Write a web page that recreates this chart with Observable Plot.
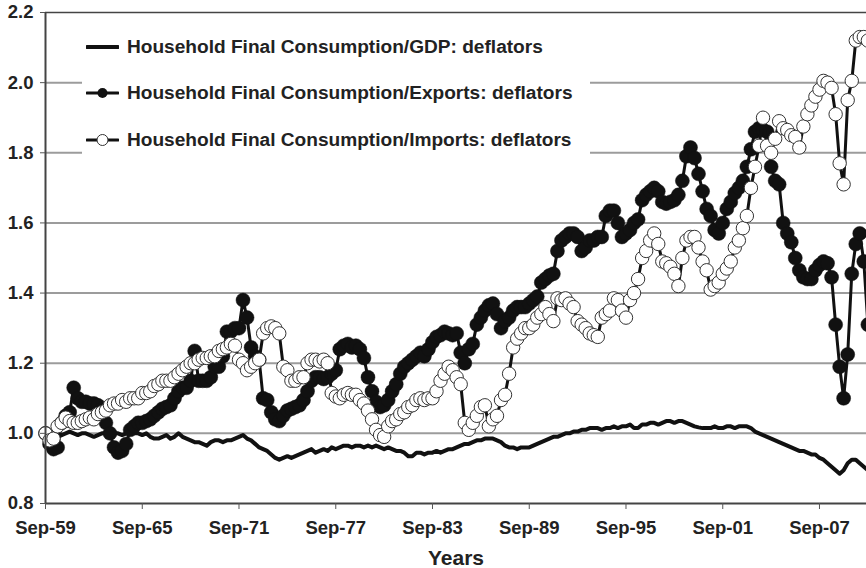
<!DOCTYPE html>
<html><head><meta charset="utf-8">
<script src="https://cdn.jsdelivr.net/npm/d3@7"></script>
<script src="https://cdn.jsdelivr.net/npm/@observablehq/plot@0.6"></script>
<style>
body{margin:0;background:#fff;overflow:hidden;font-family:"Liberation Sans",Arial,sans-serif;}
#wrap{position:relative;width:866px;height:568px;overflow:hidden;}
#legend{position:absolute;left:82px;top:22px;width:508px;height:148px;background:#fff;}
.row{position:absolute;left:4px;height:20px;display:flex;align-items:center;font-weight:bold;font-size:19.1px;color:#222;white-space:nowrap;}
.row svg{margin-right:8px;}
</style></head><body><div id="wrap"><div id="legend"></div></div>
<script>
// Quarterly observations, starting Sep-1959
const seriesNames = [
  "Household Final Consumption/GDP: deflators",
  "Household Final Consumption/Exports: deflators",
  "Household Final Consumption/Imports: deflators"
];
const gdpRatio = [
  1.00,1.00,0.995,0.99, 0.995,1.00,1.005,1.00, 0.995,1.00,1.00,0.995, 0.99,0.995,1.00,1.00,
  0.995,1.00,1.00,0.995, 1.00,1.00,1.00,1.00, 0.995,1.00,0.99,0.985, 0.985,0.99,0.995,0.985,
  0.99,1.00,0.99,0.985, 0.98,0.975,0.975,0.97, 0.965,0.975,0.98,0.98, 0.975,0.98,0.98,0.985,
  0.99,0.995,0.985,0.98, 0.97,0.96,0.955,0.95, 0.94,0.93,0.925,0.93, 0.935,0.93,0.935,0.94,
  0.945,0.95,0.955,0.945, 0.95,0.955,0.95,0.96, 0.955,0.96,0.965,0.965, 0.96,0.965,0.965,0.96,
  0.965,0.96,0.965,0.96, 0.955,0.96,0.955,0.95, 0.95,0.945,0.935,0.935, 0.945,0.945,0.94,0.945,
  0.945,0.95,0.945,0.95, 0.955,0.955,0.96,0.965, 0.97,0.97,0.975,0.98, 0.98,0.985,0.985,0.985,
  0.98,0.975,0.965,0.96, 0.96,0.955,0.96,0.96, 0.96,0.965,0.97,0.975, 0.98,0.985,0.99,0.99,
  0.995,1.00,1.00,1.005, 1.005,1.01,1.01,1.015, 1.015,1.015,1.01,1.015, 1.015,1.02,1.015,1.02,
  1.02,1.025,1.015,1.015, 1.025,1.025,1.03,1.03, 1.025,1.03,1.035,1.035, 1.03,1.035,1.035,1.03,
  1.025,1.02,1.017,1.015, 1.015,1.015,1.02,1.015, 1.015,1.02,1.02,1.015, 1.02,1.02,1.02,1.015,
  1.005,1.00,0.995,0.99, 0.985,0.98,0.975,0.97, 0.965,0.96,0.955,0.95, 0.95,0.945,0.94,0.94,
  0.93,0.925,0.915,0.905, 0.895,0.885,0.895,0.915, 0.925,0.925,0.915,0.905, 0.895
];
const exportsRatio = [
  1.00,0.97,0.955,0.96, 1.03,1.05,1.06,1.13, 1.10,1.09,1.09,1.085, 1.085,1.08,1.07,1.03,
  1.00,0.96,0.945,0.95, 0.97,1.01,1.02,1.03, 1.03,1.035,1.04,1.05, 1.06,1.07,1.075,1.08,
  1.10,1.12,1.13,1.13, 1.15,1.235,1.15,1.15, 1.15,1.16,1.19,1.19, 1.22,1.29,1.29,1.30,
  1.30,1.38,1.33,1.245, 1.22,1.21,1.10,1.095, 1.06,1.04,1.035,1.05, 1.065,1.07,1.075,1.08,
  1.095,1.12,1.15,1.16, 1.16,1.155,1.16,1.17, 1.18,1.24,1.25,1.255, 1.245,1.25,1.24,1.215,
  1.16,1.12,1.09,1.075, 1.08,1.095,1.12,1.14, 1.17,1.19,1.20,1.21, 1.22,1.23,1.22,1.24,
  1.26,1.275,1.28,1.29, 1.285,1.28,1.285,1.23, 1.20,1.24,1.255,1.31, 1.33,1.35,1.365,1.37,
  1.34,1.30,1.32,1.33, 1.35,1.36,1.36,1.36, 1.37,1.38,1.39,1.43, 1.44,1.45,1.455,1.52,
  1.55,1.56,1.57,1.57, 1.56,1.52,1.53,1.55, 1.55,1.56,1.56,1.62, 1.635,1.635,1.60,1.56,
  1.57,1.58,1.60,1.61, 1.665,1.68,1.69,1.70, 1.69,1.66,1.655,1.66, 1.665,1.68,1.72,1.79,
  1.815,1.785,1.74,1.69, 1.64,1.62,1.58,1.57, 1.60,1.64,1.66,1.685, 1.70,1.72,1.76,1.81,
  1.86,1.87,1.865,1.86, 1.76,1.72,1.71,1.60, 1.57,1.545,1.50,1.465, 1.445,1.44,1.44,1.465,
  1.48,1.49,1.485,1.445, 1.31,1.19,1.10,1.225, 1.455,1.54,1.57,1.49, 1.31
];
const importsRatio = [
  1.00,0.98,0.985,1.02, 1.03,1.045,1.035,1.03, 1.03,1.035,1.04,1.045, 1.04,1.055,1.06,1.065,
  1.08,1.085,1.085,1.095, 1.09,1.10,1.10,1.10, 1.115,1.115,1.12,1.135, 1.14,1.15,1.15,1.15,
  1.16,1.17,1.18,1.19, 1.20,1.20,1.21,1.215, 1.215,1.22,1.22,1.235, 1.24,1.245,1.255,1.25,
  1.21,1.20,1.18,1.19, 1.20,1.21,1.285,1.30, 1.305,1.30,1.285,1.19, 1.18,1.15,1.15,1.16,
  1.16,1.20,1.21,1.21, 1.205,1.21,1.20,1.115, 1.105,1.10,1.11,1.115, 1.11,1.11,1.095,1.085,
  1.065,1.04,1.01,0.995, 0.99,1.02,1.035,1.04, 1.055,1.06,1.075,1.08, 1.095,1.10,1.095,1.10,
  1.10,1.12,1.15,1.17, 1.19,1.18,1.16,1.14, 1.03,1.01,1.03,1.05, 1.075,1.08,1.02,1.04,
  1.05,1.095,1.11,1.17, 1.245,1.27,1.285,1.30, 1.30,1.31,1.33,1.34, 1.36,1.34,1.32,1.385,
  1.38,1.385,1.37,1.36, 1.32,1.31,1.30,1.285, 1.28,1.275,1.33,1.34, 1.35,1.385,1.38,1.35,
  1.33,1.38,1.40,1.44, 1.50,1.52,1.55,1.57, 1.54,1.49,1.485,1.475, 1.455,1.42,1.50,1.55,
  1.56,1.56,1.53,1.49, 1.465,1.41,1.42,1.43, 1.455,1.47,1.49,1.53, 1.55,1.585,1.62,1.70,
  1.76,1.82,1.90,1.82, 1.80,1.84,1.89,1.87, 1.865,1.85,1.845,1.815, 1.875,1.91,1.935,1.96,
  1.98,2.005,2.00,1.985, 1.91,1.77,1.71,1.95, 2.005,2.12,2.13,2.13, 2.12
];
const xTickLabels = ["Sep-59","Sep-65","Sep-71","Sep-77","Sep-83","Sep-89","Sep-95","Sep-01","Sep-07"];
const xTickYears = [1959,1965,1971,1977,1983,1989,1995,2001,2007];
const yTicks = [0.8,1.0,1.2,1.4,1.6,1.8,2.0,2.2];
const yTickLabels = ["0.8","1.0","1.2","1.4","1.6","1.8","2.0","2.2"];

const qDate = i => new Date(Date.UTC(1959, 8 + 3 * i, 1));
const data = gdpRatio.map((v, i) => ({date: qDate(i), gdp: v, exp: exportsRatio[i], imp: importsRatio[i]}));
const xStart = new Date(Date.UTC(1959, 8, 1));
const xEnd = new Date(Date.UTC(2010, 7, 1));
const xTicks = xTickYears.map(y => new Date(Date.UTC(y, 8, 1)));

const chart = Plot.plot({
  width: 866, height: 568,
  marginLeft: 45, marginRight: 0, marginTop: 12, marginBottom: 65,
  style: {fontFamily: "'Liberation Sans', Arial, sans-serif", fontSize: "18.5px", fontWeight: "bold", color: "#222", background: "white"},
  x: {type: "utc", domain: [xStart, xEnd]},
  y: {domain: [0.8, 2.2]},
  marks: [
    Plot.gridY(yTicks.filter(v => v > 0.85 && v < 2.15), {stroke: "#9c9c9c", strokeWidth: 2, strokeOpacity: 1}),
    Plot.ruleY([2.2], {stroke: "#444", strokeWidth: 1.5}),
    Plot.line(data, {x: "date", y: "gdp", stroke: "#111", strokeWidth: 4}),
    Plot.line(data, {x: "date", y: "exp", stroke: "#111", strokeWidth: 3}),
    Plot.dot(data, {x: "date", y: "exp", r: 7, fill: "#111", stroke: "#111", strokeWidth: 0.5}),
    Plot.line(data, {x: "date", y: "imp", stroke: "#111", strokeWidth: 3}),
    Plot.dot(data, {x: "date", y: "imp", r: 6.7, fill: "white", stroke: "#333", strokeWidth: 1}),
    Plot.ruleX([xStart], {stroke: "#444", strokeWidth: 2}),
    Plot.ruleY([0.8], {stroke: "#444", strokeWidth: 2}),
    Plot.axisY({ticks: yTicks, tickFormat: (d, i) => yTickLabels[i], tickSize: 5, tickPadding: 7, stroke: "#555", label: null}),
    Plot.axisX({ticks: xTicks, tickFormat: (d, i) => xTickLabels[i], tickSize: 6, tickPadding: 11, stroke: "#555", label: null}),
    Plot.text(["Years"], {frameAnchor: "bottom", dy: 61, lineAnchor: "bottom", fontSize: 21, fontWeight: "bold", fill: "#222"})
  ]
});
const wrap = document.getElementById("wrap");
wrap.insertBefore(chart, wrap.firstChild);

const legend = document.getElementById("legend");
const rowTops = [15, 61, 108];
seriesNames.forEach((name, k) => {
  const row = document.createElement("div");
  row.className = "row";
  row.style.top = rowTops[k] + "px";
  let sym = '<svg width="33" height="16" viewBox="0 0 33 16">';
  sym += '<line x1="1" y1="8" x2="32" y2="8" stroke="#111" stroke-width="' + (k === 0 ? 4 : 3) + '" stroke-linecap="round"/>';
  if (k === 1) sym += '<circle cx="16.5" cy="8" r="5" fill="#111"/>';
  if (k === 2) sym += '<circle cx="16.5" cy="8" r="5.5" fill="white" stroke="#333" stroke-width="1"/>';
  sym += '</svg>';
  row.innerHTML = sym + '<span>' + name + '</span>';
  legend.appendChild(row);
});
</script>
</body></html>
